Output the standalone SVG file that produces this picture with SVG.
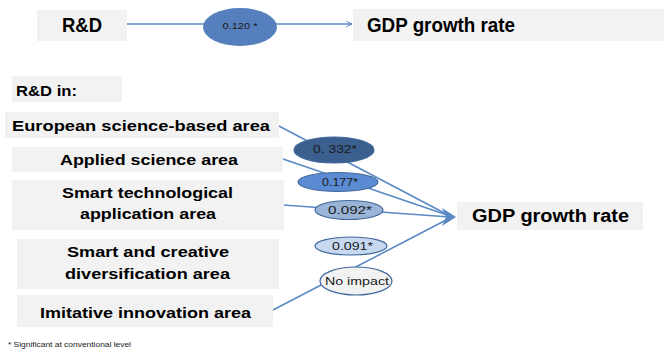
<svg xmlns="http://www.w3.org/2000/svg" width="664" height="354" viewBox="0 0 664 354">
<style>
.box{fill:#f2f2f2;stroke:none}
.lbl{font-family:"Liberation Sans",Arial,sans-serif;font-weight:bold;fill:#000}
.val{font-family:"Liberation Sans",Arial,sans-serif;fill:#1a1a1a}
.conn{stroke:#5a89c4;stroke-width:1.6;fill:none}
.head{fill:#5a89c4;stroke:none}
.ell{stroke:#41689c;stroke-width:1.2}
.note{font-family:"Liberation Sans",Arial,sans-serif;font-size:7.5px;fill:#222}
</style>
<defs>
<marker id="open" viewBox="0 0 10 10" refX="9" refY="5" markerWidth="7" markerHeight="7" markerUnits="userSpaceOnUse" orient="auto">
<path d="M1,1 L9,5 L1,9" fill="none" stroke="#5a89c4" stroke-width="1.4"/>
</marker>
</defs>

<g id="connectors">
<line class="conn" x1="127" y1="24" x2="352" y2="24" marker-end="url(#open)"/>
<line class="conn" x1="277" y1="125" x2="450" y2="216"/>
<line class="conn" x1="283" y1="159" x2="450" y2="216"/>
<line class="conn" x1="273" y1="310" x2="450" y2="218"/>
<line class="conn" x1="283" y1="205" x2="450" y2="217"/>
<path class="head" d="M456,217 L442,208 L446,217 L442,226 Z"/>
</g>

<g id="rd-top">
<rect class="box" x="37" y="10" width="90" height="31"/>
<text class="lbl" x="82" y="32" font-size="20" text-anchor="middle" textLength="40" lengthAdjust="spacingAndGlyphs">R&amp;D</text>
</g>
<g id="coef-top">
<ellipse cx="240" cy="27" rx="37" ry="19" fill="#5680bd"/>
<text class="val" x="240" y="29" font-size="9.5" text-anchor="middle" textLength="35" lengthAdjust="spacingAndGlyphs">0.120 *</text>
</g>
<g id="gdp-top">
<rect class="box" x="353" y="9" width="311" height="32"/>
<text class="lbl" x="367" y="32" font-size="20" textLength="148" lengthAdjust="spacingAndGlyphs">GDP growth rate</text>
</g>

<g id="rd-in">
<rect class="box" x="12" y="76" width="110" height="26"/>
<text class="lbl" x="16" y="96" font-size="14" textLength="61" lengthAdjust="spacingAndGlyphs">R&amp;D in:</text>
</g>
<g id="european">
<rect class="box" x="5" y="112" width="274" height="26"/>
<text class="lbl" x="12" y="131" font-size="15.5" textLength="258" lengthAdjust="spacingAndGlyphs">European science-based area</text>
</g>
<g id="applied">
<rect class="box" x="12" y="147" width="271" height="25"/>
<text class="lbl" x="60" y="165" font-size="15.5" textLength="178" lengthAdjust="spacingAndGlyphs">Applied science area</text>
</g>
<g id="smart-tech">
<rect class="box" x="12" y="180" width="272" height="50"/>
<text class="lbl" x="62" y="198" font-size="15.5" textLength="171" lengthAdjust="spacingAndGlyphs">Smart technological</text>
<text class="lbl" x="80" y="219" font-size="15.5" textLength="136" lengthAdjust="spacingAndGlyphs">application area</text>
</g>
<g id="smart-creative">
<rect class="box" x="17" y="239" width="262" height="50"/>
<text class="lbl" x="67" y="257" font-size="15.5" textLength="162" lengthAdjust="spacingAndGlyphs">Smart and creative</text>
<text class="lbl" x="65" y="279" font-size="15.5" textLength="165" lengthAdjust="spacingAndGlyphs">diversification area</text>
</g>
<g id="imitative">
<rect class="box" x="17" y="295" width="256" height="32"/>
<text class="lbl" x="40" y="318" font-size="15.5" textLength="211" lengthAdjust="spacingAndGlyphs">Imitative innovation area</text>
</g>

<g id="coef-european">
<ellipse class="ell" cx="334" cy="150" rx="40" ry="13" fill="#3b5f8f"/>
<text class="val" x="313" y="153" font-size="11.5" textLength="44" lengthAdjust="spacingAndGlyphs">0. 332*</text>
</g>
<g id="coef-applied">
<ellipse class="ell" cx="338" cy="182" rx="40" ry="9.5" fill="#5b8cd3"/>
<text class="val" x="322" y="186" font-size="11.5" textLength="36" lengthAdjust="spacingAndGlyphs">0.177*</text>
</g>
<g id="coef-smart-tech">
<ellipse class="ell" cx="349" cy="210" rx="34" ry="9.5" fill="#9ab4d7"/>
<text class="val" x="328" y="214" font-size="11.5" textLength="44" lengthAdjust="spacingAndGlyphs">0.092*</text>
</g>
<g id="coef-smart-creative">
<ellipse class="ell" cx="351" cy="246" rx="36" ry="9" fill="#c7d9f1"/>
<text class="val" x="332" y="250" font-size="11.5" textLength="41" lengthAdjust="spacingAndGlyphs">0.091*</text>
</g>
<g id="coef-imitative">
<ellipse class="ell" cx="356" cy="281" rx="36" ry="14" fill="#f2f2f2"/>
<text class="val" x="325" y="285" font-size="11.5" textLength="64" lengthAdjust="spacingAndGlyphs">No impact</text>
</g>

<g id="gdp-bottom">
<rect class="box" x="457" y="202" width="186" height="28"/>
<text class="lbl" x="472" y="222" font-size="17.5" textLength="157" lengthAdjust="spacingAndGlyphs">GDP growth rate</text>
</g>

<text class="note" x="8" y="347" textLength="123" lengthAdjust="spacingAndGlyphs">* Significant at conventional level</text>
</svg>
